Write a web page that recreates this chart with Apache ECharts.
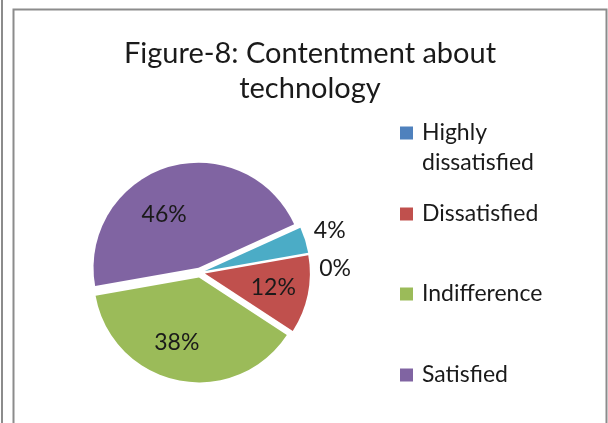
<!DOCTYPE html>
<html>
<head>
<meta charset="utf-8">
<script src="https://cdn.jsdelivr.net/npm/echarts@6/dist/echarts.min.js"></script>
<style>
  html, body { margin: 0; padding: 0; background: #ffffff; }
  #chart { width: 608px; height: 423px; }
</style>
</head>
<body>
<div id="chart"></div>
<script>
// Survey answers on contentment with technology (share of respondents, %)
const categories = ['Highly dissatisfied', 'Dissatisfied', 'Indifference', 'Satisfied', 'Highly satisfied'];
const shares = [0, 12, 38, 46, 4];
const legendNames = ['Highly dissatisfied', 'Dissatisfied', 'Indifference', 'Satisfied'];
const sliceColors = ['#4F81BD', '#C0504D', '#9BBB59', '#8064A2', '#4BACC6'];

// small nudges of each percentage label away from its default spot
const labelNudge = [[1, 16], [14, 3], [-11, 11], [-18, 0], [-1, -8]];
// legend rows (top of each row box)
const legendTops = [88, 199, 279, 360];

const FONT = 'Lato';
const TEXT = '#1a1a1a';

const chart = echarts.init(document.getElementById('chart'), null, { renderer: 'canvas' });

const pieData = categories.map((name, i) => ({
  name: name,
  value: shares[i],
  selected: true,
  itemStyle: { color: sliceColors[i] },
  label: (i === 0 || i === 4) ? { position: 'outside' } : { position: 'inside' }
}));

const legendText = { fontFamily: FONT, fontSize: 23, color: TEXT, lineHeight: 30 };

const legends = legendNames.map((name, i) => ({
  data: [name],
  left: 400,
  top: legendTops[i],
  padding: 0,
  orient: 'vertical',
  icon: 'rect',
  itemWidth: 13,
  itemHeight: 13,
  selectedMode: false,
  // the long name wraps onto two lines, first line level with the swatch
  formatter: n => n === 'Highly dissatisfied' ? '{t|Highly}\n{t|dissatisfied}' : n,
  textStyle: Object.assign({}, legendText, {
    padding: i === 0 ? [30, 0, 0, 4] : [0, 0, 0, 4],
    rich: { t: legendText }
  })
}));

chart.setOption({
  animation: false,
  color: sliceColors,
  title: {
    text: 'Figure-8: Contentment about\ntechnology',
    left: 310,
    top: 36,
    padding: 0,
    textAlign: 'center',
    textStyle: {
      fontFamily: FONT,
      fontSize: 29,
      fontWeight: 'normal',
      color: TEXT,
      lineHeight: 35
    }
  },
  legend: legends,
  graphic: [
    { type: 'line', shape: { x1: 2, y1: 0, x2: 2, y2: 423 }, style: { stroke: '#8c8c8c', lineWidth: 2 } },
    { type: 'rect', shape: { x: 13.5, y: 9.5, width: 593, height: 430 }, style: { fill: null, stroke: '#8c8c8c', lineWidth: 2 } }
  ],
  series: [{
    type: 'pie',
    center: [200, 272.5],
    radius: 105,
    startAngle: 10,
    clockwise: true,
    selectedMode: 'multiple',
    selectedOffset: 5,
    avoidLabelOverlap: false,
    silent: true,
    data: pieData,
    itemStyle: { borderWidth: 0 },
    label: {
      show: true,
      fontFamily: FONT,
      fontSize: 23,
      color: TEXT,
      formatter: p => Math.round(p.percent) + '%'
    },
    labelLine: { show: false, length: 5, length2: 0 },
    labelLayout: p => ({ dx: labelNudge[p.dataIndex][0], dy: labelNudge[p.dataIndex][1] }),
    emphasis: { disabled: true }
  }]
});
</script>
</body>
</html>
